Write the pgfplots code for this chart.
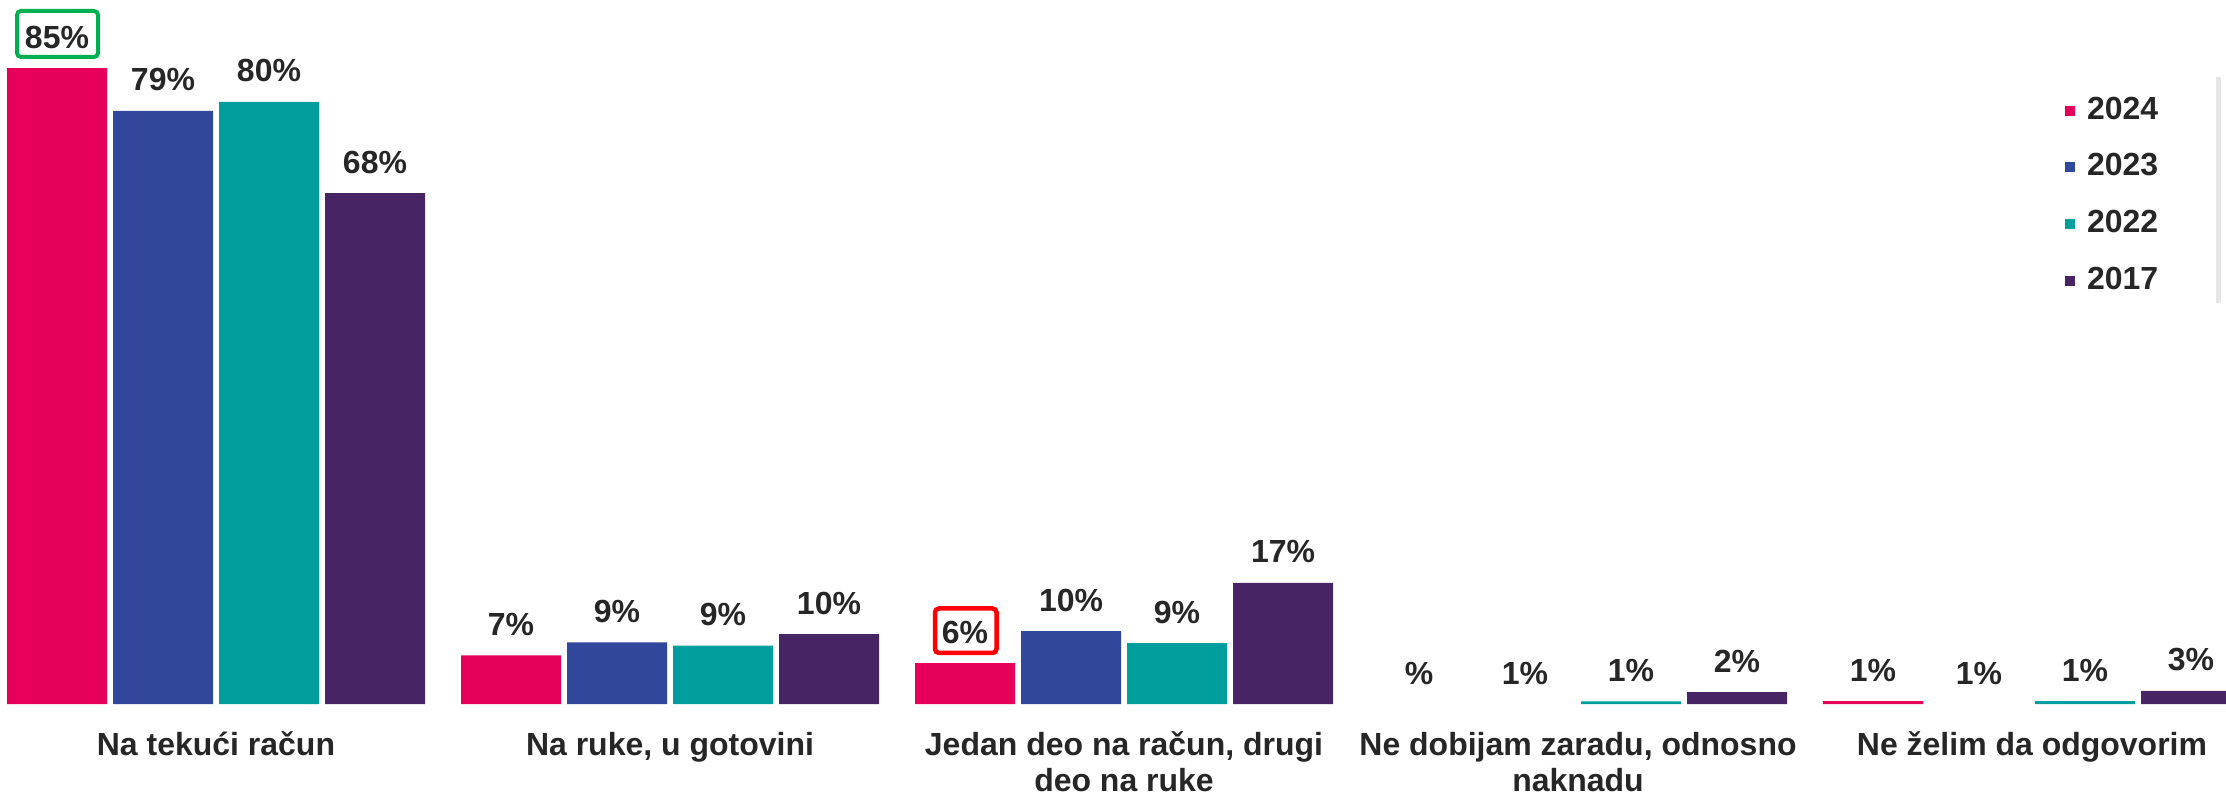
\documentclass[border=0pt]{standalone}
\usepackage{fontspec}
\setmainfont{Liberation Sans}
\usepackage{pgfplots}
\pgfplotsset{compat=1.18}
\definecolor{c24}{HTML}{E6005A}
\definecolor{c23}{HTML}{31479B}
\definecolor{c22}{HTML}{009E9C}
\definecolor{c17}{HTML}{472464}
\definecolor{txt}{HTML}{262626}
\definecolor{boxgreen}{HTML}{00B050}

\begin{document}
\begin{tikzpicture}
\begin{axis}[
  ybar=0pt, bar width=10mm,
  scale only axis, width=222.6mm, height=79.5mm,
  xmin=-0.47577, xmax=4.42731, ymin=-12.166, ymax=94.118,
  axis lines=none,
  nodes near coords, point meta=explicit symbolic,
  every node near coord/.append style={font=\fontsize{9.1}{11}\selectfont\bfseries,
    text=txt, anchor=base, yshift=2mm, inner sep=0pt},
  legend style={at={(0.9277,0.878)}, anchor=north west, draw=none, fill=none,
    inner sep=0pt, outer sep=0pt, row sep=2.9mm, column sep=1.2mm,
    font=\fontsize{9.1}{11}\selectfont\bfseries, text=txt,
    nodes={inner sep=0pt}},
  legend cell align=left,
  legend image code/.code={\fill[#1] (0mm,-0.5mm) rectangle (1mm,0.5mm);},
]
\addplot[fill=c24, draw=none, bar shift=-15.9mm] coordinates {
  (0,85)[85\%] (1,6.5)[7\%] (2,5.45)[6\%] (4,0.4)[1\%]};
\addlegendentry{2024}
\addplot[fill=c23, draw=none, bar shift=-5.3mm] coordinates {
  (0,79.3)[79\%] (1,8.25)[9\%] (2,9.75)[10\%]};
\addlegendentry{2023}
\addplot[fill=c22, draw=none, bar shift=5.3mm] coordinates {
  (0,80.5)[80\%] (1,7.8)[9\%] (2,8.15)[9\%] (3,0.35)[1\%] (4,0.4)[1\%]};
\addlegendentry{2022}
\addplot[fill=c17, draw=none, bar shift=15.9mm] coordinates {
  (0,68.3)[68\%] (1,9.35)[10\%] (2,16.2)[17\%] (3,1.6)[2\%] (4,1.75)[3\%]};
\addlegendentry{2017}
% zero-height entries: labels only
\addplot[fill=none, draw=none, bar shift=-15.9mm, forget plot] coordinates {
  (3,0)[\%]};
\addplot[fill=none, draw=none, bar shift=-5.3mm, forget plot] coordinates {
  (3,0)[1\%] (4,0)[1\%]};

% highlight boxes
\draw[boxgreen, line width=0.4mm, rounded corners=0.4mm]
  (axis cs:-0.4383,86.50) rectangle (axis cs:-0.2599,92.65);
\draw[red, line width=0.45mm, rounded corners=0.4mm]
  (axis cs:1.5837,6.82) rectangle (axis cs:1.7192,12.77);

% legend box edge
\draw[black!10, line width=0.5mm] (axis cs:4.4097,83.82) -- (axis cs:4.4097,53.61);

% category labels
\tikzset{cat/.style={font=\fontsize{9.1}{11}\selectfont\bfseries, text=txt, anchor=base, inner sep=0pt}}
\node[cat] at (axis cs:0,-6.9) {Na tekući račun};
\node[cat] at (axis cs:1,-6.9) {Na ruke, u gotovini};
\node[cat] at (axis cs:2,-6.9) {Jedan deo na račun, drugi};
\node[cat] at (axis cs:2,-11.76) {deo na ruke};
\node[cat] at (axis cs:3,-6.9) {Ne dobijam zaradu, odnosno};
\node[cat] at (axis cs:3,-11.76) {naknadu};
\node[cat] at (axis cs:4,-6.9) {Ne želim da odgovorim};
\end{axis}
\pgfresetboundingbox
\useasboundingbox (current axis.south west) rectangle (current axis.north east);
\end{tikzpicture}
\end{document}
